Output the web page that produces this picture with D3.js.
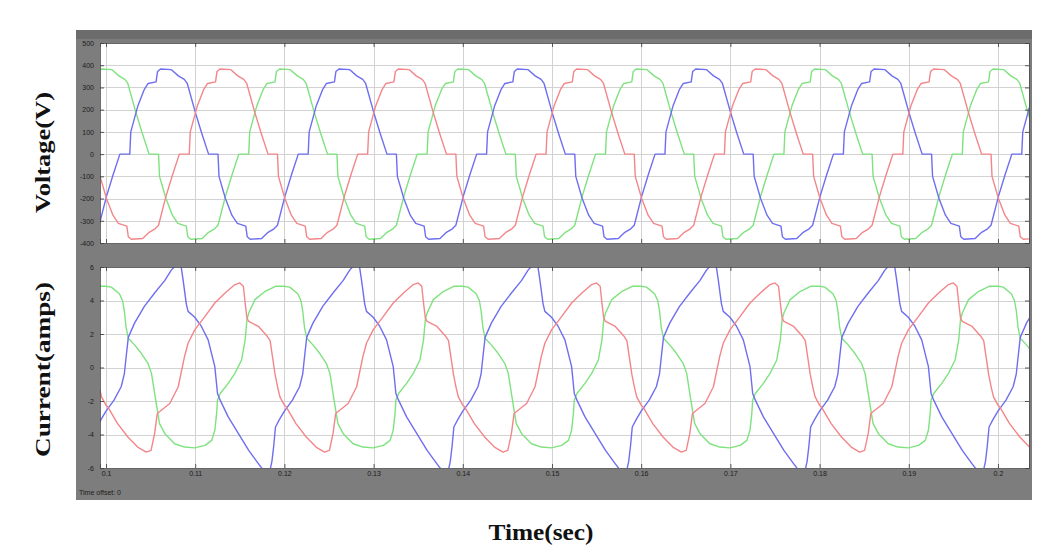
<!DOCTYPE html>
<html><head><meta charset="utf-8">
<script src="https://cdn.jsdelivr.net/npm/d3@7/dist/d3.min.js"></script>
<style>body{margin:0;background:#fff;} svg{display:block}</style>
</head><body><svg id="c" width="1058" height="558"></svg>
<script>
// ---------------- data ----------------
const period = 0.02;                       // seconds per cycle
const cycleStarts = [0.06, 0.08, 0.10, 0.12, 0.14, 0.16, 0.18, 0.20];
const timeTicks = [0.10, 0.11, 0.12, 0.13, 0.14, 0.15, 0.16, 0.17, 0.18, 0.19, 0.20];
const timeTickLabels = ["0.1","0.11","0.12","0.13","0.14","0.15","0.16","0.17","0.18","0.19","0.2"];
const voltageTicks = [-400, -300, -200, -100, 0, 100, 200, 300, 400, 500];
const currentTicks = [-6, -4, -2, 0, 2, 4, 6];
const phases = ["green", "blue", "red"];
const phaseShiftDeg = [0, 120, 240];
const phaseColors = ["#7fe27f", "#6e6ef0", "#f3868a"];

// one cycle of the stepped phase voltage (degrees from the phase peak, volts)
const voltageCycleDeg = [-90, -72, -70, -56, -43, -35, -19, -16, -10, 12, 26, 38, 44, 60, 73, 87,
  106, 108, 121, 134, 145, 162, 165, 171, 194, 207, 219, 226, 241, 254, 268, 270];
const voltageCycleVal = [0, 0, 100, 215, 290, 318, 325, 372, 383, 380, 352, 336, 318, 190, 95, 0,
  0, -100, -200, -275, -312, -324, -372, -383, -380, -352, -336, -320, -190, -95, 0, 0];

// one cycle of each phase current (ms into the cycle, amps)
const currentGreenMs = [0.0, 0.6, 1.5, 1.85, 2.05, 2.25, 2.5, 3.2, 3.95, 4.7, 5.1, 5.45, 5.75, 6.0, 6.6,
  7.7, 8.8, 9.95, 11.1, 11.85, 12.2, 12.4, 12.5, 12.8, 13.7, 14.45, 15.2, 15.6, 15.8, 16.0, 16.7, 17.85, 19.0, 20.0];
const currentGreenVal = [4.85, 4.8, 4.4, 4.0, 3.4, 2.4, 1.75, 1.35, 0.85, 0.25, -0.35, -1.55, -2.55, -3.35, -3.95,
  -4.55, -4.75, -4.8, -4.65, -4.35, -3.75, -2.75, -1.95, -1.55, -0.95, -0.35, 0.45, 1.65, 2.85, 3.25, 4.05, 4.55, 4.85, 4.85];

const currentBlueMs = [0.0, 0.9, 1.7, 2.05, 2.25, 2.5, 3.2, 4.3, 5.45, 6.6, 7.3, 7.8, 8.4, 8.65, 9.0, 9.2,
  9.95, 10.7, 11.45, 12.2, 12.5, 12.8, 13.7, 14.85, 16.0, 17.1, 17.6, 18.4, 18.6, 18.8, 19.0, 19.45, 20.0];
const currentBlueVal = [-2.6, -1.95, -1.15, -0.4, 0.6, 1.8, 2.65, 3.65, 4.45, 5.2, 5.8, 6.1, 6.1, 5.2, 3.8, 3.35,
  3.0, 2.45, 1.65, 0.05, -1.55, -1.95, -2.95, -3.95, -4.95, -5.75, -6.1, -6.1, -5.6, -4.7, -3.55, -3.1, -2.6];

const currentRedMs = [0.0, 0.2, 1.3, 2.45, 3.55, 4.5, 5.05, 5.45, 5.75, 6.2, 7.15, 8.1, 8.8, 9.2, 9.95,
  11.1, 12.2, 13.35, 14.45, 15.0, 15.4, 15.6, 15.8, 16.0, 17.1, 18.1, 18.4, 18.65, 18.95, 19.25, 19.5, 20.0];
const currentRedVal = [-2.25, -2.35, -3.35, -4.15, -4.75, -5.05, -4.95, -3.95, -2.75, -2.55, -2.15, -1.15, 0.65, 1.45, 2.25,
  3.05, 3.85, 4.45, 4.95, 5.05, 4.85, 3.85, 2.95, 2.75, 2.45, 1.85, 1.6, 0.7, -0.4, -1.2, -1.75, -2.25];

const currentMs = [currentGreenMs, currentBlueMs, currentRedMs];
const currentVal = [currentGreenVal, currentBlueVal, currentRedVal];

// ---------------- layout ----------------
const svg = d3.select("#c");
const frame = {x0: 76, x1: 1032, y0: 30, y1: 500};
const plotX = [100, 1029];
const topY = [43, 243];
const botY = [267, 468];

svg.append("rect").attr("x", frame.x0).attr("y", frame.y0)
  .attr("width", frame.x1 - frame.x0).attr("height", frame.y1 - frame.y0).attr("fill", "#7d7d7d");
svg.append("rect").attr("x", frame.x0).attr("y", frame.y0)
  .attr("width", frame.x1 - frame.x0).attr("height", 9).attr("fill", "#6c6c6c");

const x = d3.scaleLinear().domain([0.1 - 6 / 8910, 0.2 + 31 / 8910]).range(plotX);
const yV = d3.scaleLinear().domain([-400, 500]).range([topY[1], topY[0]]);
const yI = d3.scaleLinear().domain([-6, 6]).range([botY[1], botY[0]]);

function buildVoltage(p) {
  const pts = [];
  cycleStarts.forEach(c => {
    voltageCycleDeg.forEach((d, i) => {
      pts.push([c + (phaseShiftDeg[p] + d) / 360 * period, voltageCycleVal[i]]);
    });
  });
  return pts.sort((a, b) => a[0] - b[0]);
}
function buildCurrent(p) {
  const pts = [];
  cycleStarts.forEach(c => {
    currentMs[p].forEach((m, i) => pts.push([c + m / 1000, currentVal[p][i]]));
  });
  return pts.sort((a, b) => a[0] - b[0]);
}

function panel(id, yScale, yr, ticks, data, showXLabels) {
  const g = svg.append("g");
  g.append("rect").attr("x", plotX[0]).attr("y", yr[0])
    .attr("width", plotX[1] - plotX[0]).attr("height", yr[1] - yr[0]).attr("fill", "#ffffff");
  svg.append("clipPath").attr("id", id).append("rect")
    .attr("x", plotX[0]).attr("y", yr[0]).attr("width", plotX[1] - plotX[0]).attr("height", yr[1] - yr[0]);
  // grid
  g.selectAll(".hg").data(ticks).enter().append("line")
    .attr("x1", plotX[0]).attr("x2", plotX[1])
    .attr("y1", d => Math.round(yScale(d)) + 0.5).attr("y2", d => Math.round(yScale(d)) + 0.5)
    .attr("stroke", "#d2d2d2").attr("stroke-width", 1);
  g.selectAll(".vg").data(timeTicks).enter().append("line")
    .attr("y1", yr[0]).attr("y2", yr[1])
    .attr("x1", d => Math.round(x(d)) + 0.5).attr("x2", d => Math.round(x(d)) + 0.5)
    .attr("stroke", "#d2d2d2").attr("stroke-width", 1);
  // lines
  const line = d3.line().x(d => x(d[0])).y(d => yScale(d[1]));
  const lg = g.append("g").attr("clip-path", `url(#${id})`);
  data.forEach((pts, p) => {
    lg.append("path").attr("d", line(pts)).attr("fill", "none")
      .attr("stroke", phaseColors[p]).attr("stroke-width", 1.4).attr("stroke-linejoin", "round");
  });
  // axes
  const fmt = d => String(d);
  const left = g.append("g").attr("transform", `translate(${plotX[0]},0)`)
    .call(d3.axisLeft(yScale).tickValues(ticks).tickSize(-4).tickPadding(6).tickFormat(fmt));
  const right = g.append("g").attr("transform", `translate(${plotX[1]},0)`)
    .call(d3.axisRight(yScale).tickValues(ticks).tickSize(-4).tickFormat(""));
  const top = g.append("g").attr("transform", `translate(0,${yr[0]})`)
    .call(d3.axisTop(x).tickValues(timeTicks).tickSize(-4).tickFormat(""));
  const bottom = g.append("g").attr("transform", `translate(0,${yr[1]})`)
    .call(d3.axisBottom(x).tickValues(timeTicks).tickSize(-4).tickPadding(3)
      .tickFormat((d, i) => showXLabels ? timeTickLabels[i] : ""));
  [left, right, top, bottom].forEach(a => {
    a.select(".domain").attr("stroke", "#4a4a4a").attr("stroke-width", 0.8);
    a.selectAll(".tick line").attr("stroke", "#333").attr("stroke-width", 0.8);
    a.selectAll("text").attr("fill", "#1c1c1c").style("font-family", "Liberation Sans, Arial, sans-serif")
      .style("font-size", "7px");
  });
}

panel("clipV", yV, topY, voltageTicks, phases.map((_, p) => buildVoltage(p)), false);
panel("clipI", yI, botY, currentTicks, phases.map((_, p) => buildCurrent(p)), true);

svg.append("text").attr("x", 79).attr("y", 495).text("Time offset:  0")
  .attr("fill", "#1c1c1c").style("font-family", "Liberation Sans, Arial, sans-serif").style("font-size", "7px");

// axis titles
const serif = "Liberation Serif, Times New Roman, serif";
svg.append("text").attr("transform", "translate(50,152.5) rotate(-90)")
  .attr("text-anchor", "middle").attr("textLength", 121).attr("lengthAdjust", "spacingAndGlyphs")
  .style("font-family", serif).style("font-weight", "bold").style("font-size", "22px").attr("fill", "#111")
  .text("Voltage(V)");
svg.append("text").attr("transform", "translate(50,369.5) rotate(-90)")
  .attr("text-anchor", "middle").attr("textLength", 175).attr("lengthAdjust", "spacingAndGlyphs")
  .style("font-family", serif).style("font-weight", "bold").style("font-size", "22px").attr("fill", "#111")
  .text("Current(amps)");
svg.append("text").attr("x", 541).attr("y", 540)
  .attr("text-anchor", "middle").attr("textLength", 105).attr("lengthAdjust", "spacingAndGlyphs")
  .style("font-family", serif).style("font-weight", "bold").style("font-size", "23px").attr("fill", "#111")
  .text("Time(sec)");
</script></body></html>
